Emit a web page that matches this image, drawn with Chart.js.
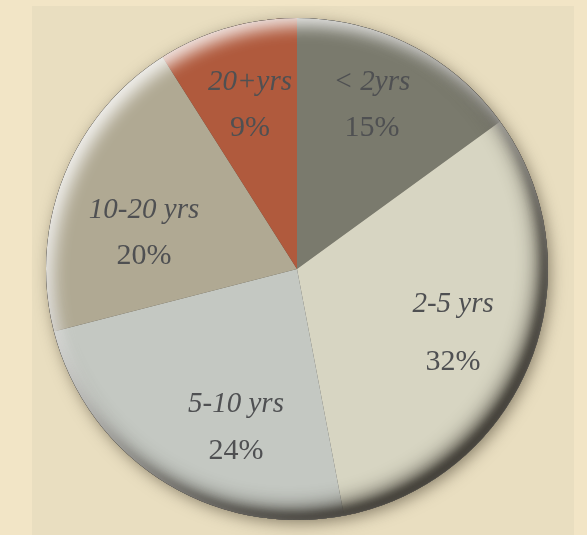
<!DOCTYPE html>
<html>
<head>
<meta charset="utf-8">
<script src="https://cdn.jsdelivr.net/npm/chart.js@4.4.1/dist/chart.umd.min.js"></script>
<style>
  html, body { margin: 0; padding: 0; }
  body { width: 587px; height: 535px; background: #f2e5c6; position: relative; overflow: hidden; }
  #panel { position: absolute; left: 32px; top: 6px; width: 542px; height: 529px; background: #e9dec0; }
  #wrap { position: absolute; left: 0; top: 0; width: 587px; height: 535px; }
</style>
</head>
<body>
<div id="panel"></div>
<div id="wrap"><canvas id="c" width="587" height="535"></canvas></div>
<script>
// ---- data ----
const categories = ['< 2yrs', '2-5 yrs', '5-10 yrs', '10-20 yrs', '20+yrs'];
const shares = [15, 32, 24, 20, 9];
const sliceColors = ['#7a7a6d', '#d7d5c2', '#c4c8c2', '#b0a993', '#b05a3d'];

// label layout (angle nudge in degrees, radial fraction, half line gap)
const labelLayout = {
  angleNudge: [-2.4, 0.7, -11.4, -8.4, 0.2],
  radiusFrac: [0.717, 0.672, 0.678, 0.626, 0.68],
  halfGap: [23, 29, 23, 23, 23]
};

const bevelPlugin = {
  id: 'bevel',
  beforeDatasetsDraw(chart) {
    const arc = chart.getDatasetMeta(0).data[0];
    if (!arc) return;
    const { x, y, outerRadius: r } = arc.getProps(['x', 'y', 'outerRadius'], true);
    const ctx = chart.ctx;
    ctx.save();
    ctx.beginPath();
    ctx.arc(x, y, r - 1, 0, Math.PI * 2);
    ctx.shadowColor = 'rgba(70,62,45,0.6)';
    ctx.shadowBlur = 16;
    ctx.shadowOffsetX = 3;
    ctx.shadowOffsetY = 4;
    ctx.fillStyle = '#55524b';
    ctx.fill();
    ctx.restore();
  },
  afterDatasetsDraw(chart) {
    const arc = chart.getDatasetMeta(0).data[0];
    if (!arc) return;
    const { x, y, outerRadius: r } = arc.getProps(['x', 'y', 'outerRadius'], true);
    const ctx = chart.ctx;
    const ring = () => {
      ctx.beginPath();
      ctx.rect(-2000, -2000, 5000, 5000);
      ctx.arc(x, y, r, 0, Math.PI * 2, true);
    };
    ctx.save();
    ctx.beginPath();
    ctx.arc(x, y, r, 0, Math.PI * 2);
    ctx.clip();
    // dark inner shadow lower-right
    ctx.shadowColor = 'rgba(60,57,50,0.95)';
    ctx.shadowBlur = 20;
    ctx.shadowOffsetX = -9;
    ctx.shadowOffsetY = -10;
    ctx.fillStyle = '#4a4742';
    ring(); ctx.fill('nonzero');
    ctx.shadowColor = 'rgba(60,57,50,0.9)';
    ctx.shadowBlur = 8;
    ctx.shadowOffsetX = -5;
    ctx.shadowOffsetY = -6;
    ring(); ctx.fill('nonzero');
    // light inner highlight upper-left
    ctx.shadowColor = 'rgba(255,255,255,0.85)';
    ctx.shadowBlur = 16;
    ctx.shadowOffsetX = 7;
    ctx.shadowOffsetY = 8;
    ring(); ctx.fill('nonzero');
    ctx.restore();
  },
  afterDraw(chart) {
    const meta = chart.getDatasetMeta(0);
    const ctx = chart.ctx;
    ctx.save();
    ctx.fillStyle = '#4f5052';
    ctx.textAlign = 'center';
    ctx.textBaseline = 'middle';
    meta.data.forEach((el, i) => {
      const p = el.getProps(['x', 'y', 'startAngle', 'endAngle', 'outerRadius'], true);
      const mid = (p.startAngle + p.endAngle) / 2 + labelLayout.angleNudge[i] * Math.PI / 180;
      const rr = p.outerRadius * labelLayout.radiusFrac[i];
      const lx = p.x + Math.cos(mid) * rr;
      const ly = p.y + Math.sin(mid) * rr;
      const g = labelLayout.halfGap[i];
      ctx.font = 'italic 29px "Liberation Serif", serif';
      ctx.fillText(chart.data.labels[i], lx, ly - g);
      ctx.font = '30px "Liberation Serif", serif';
      ctx.fillText(chart.data.datasets[0].data[i] + '%', lx, ly + g);
    });
    ctx.restore();
  }
};

new Chart(document.getElementById('c'), {
  type: 'pie',
  data: {
    labels: categories,
    datasets: [{
      data: shares,
      backgroundColor: sliceColors,
      borderWidth: 0,
      hoverOffset: 0,
      offset: 0
    }]
  },
  options: {
    responsive: false,
    animation: false,
    events: [],
    layout: { padding: { left: 46, right: 39, top: 18, bottom: 15 } },
    plugins: { legend: { display: false }, tooltip: { enabled: false } }
  },
  plugins: [bevelPlugin]
});
</script>
</body>
</html>
